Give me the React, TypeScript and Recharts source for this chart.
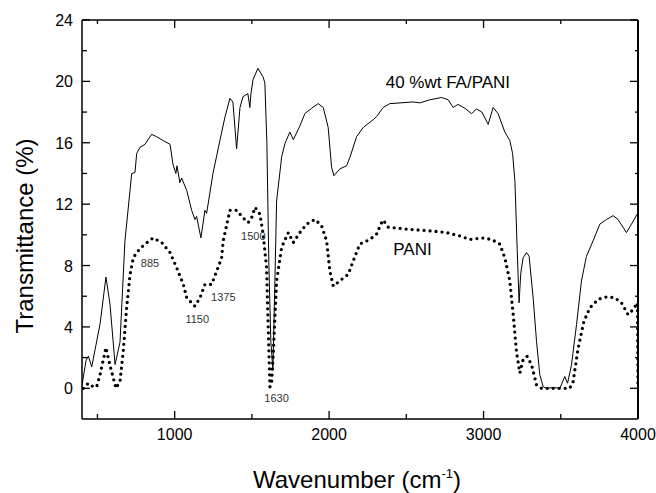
import { LineChart, Line, XAxis, YAxis, ReferenceDot, Label } from "recharts";

// 40 %wt FA/PANI (solid)
const faWave = [
  400, 413, 426, 441, 463, 490, 517, 555, 581, 614, 646, 678, 722, 743, 754, 775, 808, 851, 883, 924,
  970, 989, 1008, 1015, 1034, 1045, 1078, 1110, 1131, 1142, 1170, 1196, 1207, 1248, 1293, 1326, 1358,
  1377, 1401, 1423, 1442, 1474, 1487, 1494, 1507, 1539, 1572, 1584, 1597, 1610, 1623, 1636, 1649, 1660,
  1693, 1714, 1746, 1768, 1811, 1843, 1887, 1929, 1962, 1994, 2016, 2031, 2070, 2113, 2135, 2178, 2221,
  2285, 2307, 2350, 2393, 2544, 2588, 2652, 2728, 2771, 2803, 2834, 2879, 2922, 2955, 2989, 3030, 3062,
  3094, 3138, 3170, 3188, 3203, 3218, 3230, 3241, 3256, 3278, 3295, 3321, 3343, 3364, 3386, 3408, 3451,
  3494, 3526, 3544, 3569, 3602, 3634, 3666, 3709, 3753, 3796, 3839, 3871, 3925, 3958, 4000,
];
const faTrans = [
  0.2, 1.0, 1.8, 2.1, 1.4, 2.8, 4.2, 7.25, 5.5, 1.55, 3.0, 9.6, 14.0, 14.06, 15.3, 15.7, 15.9, 16.55, 16.4, 16.15,
  15.9, 14.6, 14.0, 14.5, 13.4, 13.7, 12.9, 11.6, 11.0, 11.2, 9.8, 11.6, 11.4, 14.0, 16.15, 17.7, 18.9,
  18.65, 15.6, 18.3, 19.0, 19.2, 18.3, 19.2, 20.1, 20.85, 20.3, 19.9, 16.0, 8.0, 3.0, 1.2, 7.0, 12.2,
  15.1, 15.95, 16.7, 16.2, 17.1, 17.9, 18.25, 18.55, 18.3, 17.0, 14.4, 13.85, 14.3, 14.5, 15.06, 16.4, 17.0,
  17.5, 17.7, 18.3, 18.55, 18.66, 18.6, 18.8, 18.95, 18.8, 18.3, 18.5, 18.25, 17.9, 18.2, 18.0, 17.2, 18.3,
  17.9, 16.7, 16.15, 15.3, 13.5, 9.0, 5.57, 7.5, 8.5, 8.85, 8.6, 5.9, 3.06, 0.9, 0.1, 0.0, 0.05,
  0.0, 0.77, 0.33, 1.5, 4.15, 7.0, 8.6, 9.6, 10.7, 11.0, 11.25, 11.0, 10.15, 10.7, 11.45,
];

// PANI (dotted)
const paniWave = [
  408, 441, 473, 495, 517, 555, 581, 620, 646, 667, 689, 711, 732, 754, 786, 808, 861, 916, 970, 1013,
  1056, 1078, 1131, 1164, 1196, 1239, 1272, 1304, 1314, 1358, 1401, 1444, 1476, 1498, 1520, 1552, 1573,
  1595, 1607, 1617, 1627, 1638, 1660, 1693, 1736, 1768, 1811, 1854, 1908, 1951, 1984, 2005, 2027, 2081,
  2124, 2156, 2199, 2264, 2307, 2340, 2350, 2383, 2502, 2652, 2760, 2846, 2911, 2987, 3052, 3105, 3138,
  3170, 3192, 3213, 3235, 3256, 3282, 3311, 3343, 3375, 3558, 3580, 3612, 3650, 3688, 3742, 3796, 3850,
  3893, 3936, 3968, 3997, 4000,
];
const paniTrans = [
  0.0, 0.33, 0.1, 0.1, 0.9, 2.65, 1.5, 0.0, 0.45, 2.4, 5.25, 7.4, 8.5, 8.85, 9.2, 9.4, 9.8, 9.5, 8.85, 7.86,
  6.77, 5.9, 5.35, 5.9, 6.77, 6.77, 7.64, 8.5, 9.6, 11.6, 11.6, 11.1, 10.8, 11.1, 11.8, 11.35, 10.05,
  7.86, 3.5, 0.1, 0.3, 2.2, 7.0, 9.2, 10.15, 9.5, 10.15, 10.7, 11.0, 10.6, 9.6, 7.64, 6.66, 7.1,
  7.43, 8.3, 9.4, 9.7, 10.05, 10.8, 10.96, 10.5, 10.37, 10.26, 10.15, 9.93, 9.7, 9.8, 9.7, 9.4, 8.5,
  7.0, 4.8, 2.4, 1.0, 1.86, 2.08, 1.53, 0.22, 0.0, 0.0, 0.44, 2.6, 4.37, 5.24, 5.8, 5.96, 5.9,
  5.57, 4.8, 5.13, 5.57, 0.0,
];

const xTicks = [500, 1000, 1500, 2000, 2500, 3000, 3500, 4000];
const yTicks = [0, 2, 4, 6, 8, 10, 12, 14, 16, 18, 20, 22, 24];

const peakLabels = [
  { w: 840, t: 8.15, text: "885" },
  { w: 1146, t: 4.52, text: "1150" },
  { w: 1315, t: 5.96, text: "1375" },
  { w: 1509, t: 9.89, text: "1500" },
  { w: 1660, t: -0.65, text: "1630" },
];

const faData = faWave.map((w, i) => ({ w, t: faTrans[i] }));
const paniData = paniWave.map((w, i) => ({ w, t: paniTrans[i] }));

const font = "Liberation Sans, Arial, sans-serif";

const BottomTick = (p: any) => {
  const major = p.payload.value % 1000 === 0;
  return (
    <g>
      <line x1={p.x} x2={p.x} y1={p.y} y2={p.y - (major ? 8 : 5)} stroke="#000" strokeWidth={1.3} />
      {major && (
        <text x={p.x} y={p.y + 21} textAnchor="middle" fontSize={16} fontFamily={font} fill="#000">
          {p.payload.value}
        </text>
      )}
    </g>
  );
};

const TopTick = (p: any) => {
  const major = p.payload.value % 1000 === 0;
  return <line x1={p.x} x2={p.x} y1={p.y} y2={p.y + (major ? 8 : 4)} stroke="#000" strokeWidth={1.3} />;
};

const LeftTick = (p: any) => {
  const major = p.payload.value % 4 === 0;
  return (
    <g>
      <line x1={p.x} x2={p.x + (major ? 8 : 5)} y1={p.y} y2={p.y} stroke="#000" strokeWidth={1.3} />
      {major && (
        <text x={p.x - 9} y={p.y + 6} textAnchor="end" fontSize={16} fontFamily={font} fill="#000">
          {p.payload.value}
        </text>
      )}
    </g>
  );
};

const RightTick = (p: any) => {
  const major = p.payload.value % 4 === 0;
  return <line x1={p.x} x2={p.x - (major ? 8 : 3)} y1={p.y} y2={p.y} stroke="#000" strokeWidth={1.3} />;
};

export default function App() {
  return (
    <div style={{ position: "absolute", left: 0, top: 0, background: "#fff" }}>
      <LineChart width={656} height={493} margin={{ top: 19, right: 17, left: 0, bottom: 0 }}>
        <XAxis
          dataKey="w"
          type="number"
          domain={[400, 4000]}
          ticks={xTicks}
          allowDataOverflow
          height={74}
          tickSize={0}
          tickMargin={0}
          tickLine={false}
          tick={BottomTick}
          axisLine={{ stroke: "#000", strokeWidth: 1.5 }}
          interval={0}
        >
          <Label
            content={() => (
              <text x={253} y={488} fontSize={24} fontFamily={font} fill="#000">
                Wavenumber (cm
                <tspan dy={-10} fontSize={13}>-1</tspan>
                <tspan dy={10}>)</tspan>
              </text>
            )}
          />
        </XAxis>
        <XAxis
          xAxisId="top"
          orientation="top"
          dataKey="w"
          type="number"
          domain={[400, 4000]}
          ticks={xTicks}
          allowDataOverflow
          height={1}
          tickSize={0}
          tickMargin={0}
          tickLine={false}
          tick={TopTick}
          axisLine={{ stroke: "#000", strokeWidth: 1.5 }}
          interval={0}
        />
        <YAxis
          type="number"
          domain={[-2, 24]}
          ticks={yTicks}
          allowDataOverflow
          width={82}
          tickSize={0}
          tickMargin={0}
          tickLine={false}
          tick={LeftTick}
          axisLine={{ stroke: "#000", strokeWidth: 1.5 }}
          interval={0}
        >
          <Label
            content={() => (
              <text
                x={24}
                y={236}
                transform="rotate(-90 24 236)"
                textAnchor="middle"
                dominantBaseline="central"
                fontSize={24}
                fontFamily={font}
                fill="#000"
              >
                Transmittance (%)
              </text>
            )}
          />
        </YAxis>
        <YAxis
          yAxisId="right"
          orientation="right"
          type="number"
          domain={[-2, 24]}
          ticks={yTicks}
          allowDataOverflow
          width={1}
          tickSize={0}
          tickMargin={0}
          tickLine={false}
          tick={RightTick}
          axisLine={{ stroke: "#000", strokeWidth: 2 }}
          interval={0}
        />
        {/* invisible copy so the top / right frame axes get their ticks */}
        <Line
          xAxisId="top"
          yAxisId="right"
          data={faData}
          dataKey="t"
          stroke="none"
          dot={false}
          activeDot={false}
          isAnimationActive={false}
        />
        <Line
          data={faData}
          dataKey="t"
          type="linear"
          stroke="#000"
          strokeWidth={1}
          dot={false}
          isAnimationActive={false}
        />
        <Line
          data={paniData}
          dataKey="t"
          type="linear"
          stroke="#000"
          strokeWidth={3.3}
          strokeDasharray="0 6"
          strokeLinecap="round"
          dot={false}
          isAnimationActive={false}
        />
        {peakLabels.map((p) => (
          <ReferenceDot
            key={p.text}
            x={p.w}
            y={p.t}
            r={1}
            fill="none"
            stroke="none"
            label={{ value: p.text, position: "center", fontSize: 11, fill: "#333", fontFamily: font }}
          />
        ))}
        <ReferenceDot
          x={2769}
          y={19.95}
          r={1}
          fill="none"
          stroke="none"
          label={{ value: "40 %wt FA/PANI", position: "center", fontSize: 17, fill: "#000", fontFamily: font }}
        />
        <ReferenceDot
          x={2540}
          y={9.1}
          r={1}
          fill="none"
          stroke="none"
          label={{ value: "PANI", position: "center", fontSize: 17, fill: "#000", fontFamily: font }}
        />
      </LineChart>
    </div>
  );
}
